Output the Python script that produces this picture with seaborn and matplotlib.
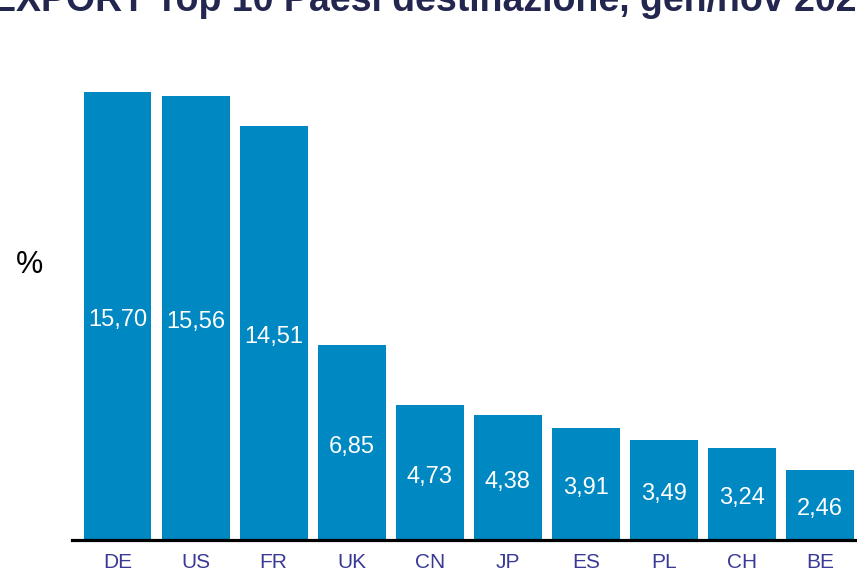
import matplotlib
matplotlib.use('Agg')
import matplotlib.pyplot as plt
import seaborn as sns
import pandas as pd

# data
paesi = ['DE', 'US', 'FR', 'UK', 'CN', 'JP', 'ES', 'PL', 'CH', 'BE']
quote = [15.70, 15.56, 14.51, 6.85, 4.73, 4.38, 3.91, 3.49, 3.24, 2.46]
titolo = 'EXPORT Top 10 Paesi destinazione, gen/nov 2023'

df = pd.DataFrame({'paese': paesi, 'quota': quote})

sns.set_style('white')
plt.rcParams['font.family'] = ['Liberation Sans', 'DejaVu Sans']

fig = plt.figure(figsize=(8.57, 5.73), dpi=100)
ax = fig.add_axes([72 / 857, 1 - 540 / 573, 1 - 72 / 857, 480 / 573])

sns.barplot(data=df, x='paese', y='quota', color='#0088c2', width=0.87,
            saturation=1, edgecolor='none', ax=ax)

# value labels in the middle of each bar
for i, v in enumerate(quote):
    ax.text(i, v / 2 - 0.15, f'{v:.2f}'.replace('.', ','), ha='center', va='center',
            color='white', fontsize=17)

ax.set_xlim(-0.583, 9.474)
ax.set_ylim(0, 480 / 28.54)
ax.set_xlabel('')
ax.set_ylabel('')
ax.set_yticks([])
ax.tick_params(axis='x', length=0, pad=9.5, labelsize=15, labelcolor='#3a3a96')

sns.despine(ax=ax, left=True)
ax.spines['bottom'].set_color('black')
ax.spines['bottom'].set_linewidth(2.3)

fig.text(30 / 857, 1 - 265 / 573, '%', ha='center', va='center', fontsize=22, color='black')
fig.text(-0.01, 1 - 11 / 573, titolo, ha='left', va='baseline', fontsize=27,
         fontweight='bold', color='#23264f')

fig.savefig('out.png', dpi=100)
